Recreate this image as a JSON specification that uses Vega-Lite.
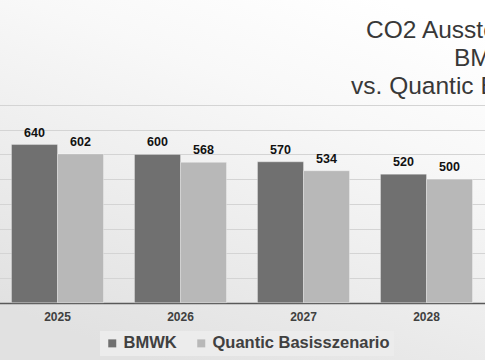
{
  "$schema": "https://vega.github.io/schema/vega-lite/v6.json",
  "width": 485,
  "height": 360,
  "autosize": {"type": "none"},
  "padding": 0,
  "background": "#ffffff",
  "view": {
    "stroke": null,
    "fill": {
      "gradient": "linear",
      "x1": 0.8, "y1": 0, "x2": 0.3, "y2": 1,
      "stops": [
        {"offset": 0, "color": "#ffffff"},
        {"offset": 0.3, "color": "#f8f8f8"},
        {"offset": 1, "color": "#e1e1e1"}
      ]
    }
  },
  "title": {
    "text": ["CO2 Ausstoß in Mio. to", "BMWK", "vs. Quantic Basisszenario"],
    "anchor": "start",
    "align": "center",
    "dx": 492,
    "offset": -118,
    "baseline": "alphabetic",
    "fontSize": 24.5,
    "fontWeight": "normal",
    "font": "Liberation Sans",
    "color": "#383838",
    "lineHeight": 28,
    "frame": "group"
  },
  "data": {
    "values": [
      {"year": "2025", "series": "BMWK", "value": 640},
      {"year": "2025", "series": "Quantic Basisszenario", "value": 602},
      {"year": "2026", "series": "BMWK", "value": 600},
      {"year": "2026", "series": "Quantic Basisszenario", "value": 568},
      {"year": "2027", "series": "BMWK", "value": 570},
      {"year": "2027", "series": "Quantic Basisszenario", "value": 534},
      {"year": "2028", "series": "BMWK", "value": 520},
      {"year": "2028", "series": "Quantic Basisszenario", "value": 500}
    ]
  },
  "encoding": {
    "x": {
      "field": "year",
      "type": "ordinal",
      "scale": {"range": [-4, 488], "paddingInner": 0.252, "paddingOuter": 0.126},
      "axis": {
        "title": null,
        "labelAngle": 0,
        "labelFontSize": 12,
        "labelFontWeight": "bold",
        "labelFont": "Liberation Sans",
        "labelColor": "#404040",
        "ticks": false,
        "domainColor": "#595959",
        "domainWidth": 1.5,
        "labelPadding": 8,
        "offset": -57,
        "grid": false
      }
    },
    "xOffset": {
      "field": "series",
      "sort": ["BMWK", "Quantic Basisszenario"],
      "scale": {"paddingInner": 0, "paddingOuter": 0}
    },
    "y": {
      "field": "value",
      "type": "quantitative",
      "scale": {"domain": [0, 800], "range": [302.7, 105], "nice": false},
      "axis": {
        "title": null,
        "labels": false,
        "ticks": false,
        "domain": false,
        "grid": true,
        "gridColor": "#d4d4d4",
        "gridWidth": 1,
        "values": [0, 100, 200, 300, 400, 500, 600, 700, 800]
      }
    }
  },
  "layer": [
    {
      "mark": {"type": "bar", "stroke": "#ffffff", "strokeOpacity": 0.3, "strokeWidth": 1},
      "encoding": {
        "color": {
          "field": "series",
          "type": "nominal",
          "sort": ["BMWK", "Quantic Basisszenario"],
          "scale": {"range": ["#707070", "#b8b8b8"]},
          "legend": {
            "orient": "none",
            "legendX": 100,
            "legendY": 331,
            "direction": "horizontal",
            "title": null,
            "symbolType": "square",
            "symbolSize": 64,
            "symbolStrokeWidth": 0,
            "labelFontSize": 16.5,
            "labelFontWeight": "bold",
            "labelFont": "Liberation Sans",
            "labelColor": "#404040",
            "labelLimit": 0,
            "fillColor": "#ececec",
            "padding": 4,
            "columnPadding": 16,
            "labelOffset": 3
          }
        }
      }
    },
    {
      "mark": {
        "type": "text",
        "dy": -8,
        "baseline": "alphabetic",
        "fontSize": 12.5,
        "fontWeight": "bold",
        "font": "Liberation Sans",
        "color": "#111111"
      },
      "encoding": {"text": {"field": "value", "type": "quantitative"}}
    }
  ]
}
